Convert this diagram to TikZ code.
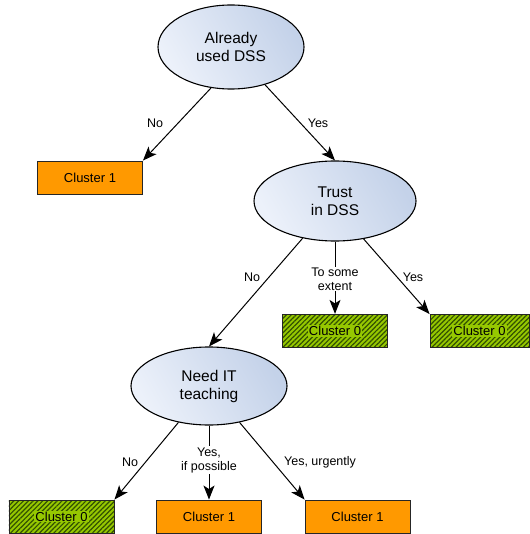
\documentclass[tikz,border=0pt]{standalone}
\usepackage{fontspec}
\setmainfont{Liberation Sans}
\usetikzlibrary{shapes.geometric,arrows.meta,patterns.meta}

\definecolor{boxorange}{RGB}{255,153,0}
\definecolor{limefill}{RGB}{150,200,0}
\definecolor{hatchgreen}{RGB}{50,80,0}
\definecolor{ellipselight}{RGB}{236,241,250}
\definecolor{ellipsedark}{RGB}{196,210,233}

\newcommand{\greentext}[1]{{\setlength{\fboxsep}{1bp}\colorbox{limefill}{#1}}}

\begin{document}
\begin{tikzpicture}[x=1bp,y=-1bp,
  question/.style={ellipse, draw=black, line width=1.1bp,
    left color=ellipselight, right color=ellipsedark, shading angle=120,
    inner sep=0pt, align=center,
    font=\fontsize{15.5bp}{18bp}\selectfont},
  leaf/.style={rectangle, draw=black!85, line width=0.9bp,
    minimum width=105bp, minimum height=33bp, inner sep=0pt,
    font=\fontsize{13bp}{15bp}\selectfont},
  clusterone/.style={leaf, fill=boxorange},
  clusterzero/.style={leaf, preaction={fill=limefill},
    pattern={Lines[angle=45, distance=3.4bp, line width=1.2bp]},
    pattern color=hatchgreen},
  arr/.style={draw=black, line width=1bp,
    -{Stealth[length=14bp,width=11bp,inset=3.5bp]}},
  lbl/.style={align=center, inner sep=1bp,
    font=\fontsize{12.5bp}{14bp}\selectfont},
]
\useasboundingbox (0,0) rectangle (530,534);

% decision nodes
\node[question, minimum width=146bp, minimum height=84bp] (e1) at (231,47) {Already\\used DSS};
\node[question, minimum width=162bp, minimum height=80bp] (e2) at (335,201) {Trust\\in DSS};
\node[question, minimum width=156bp, minimum height=78bp] (e3) at (209,386) {Need IT\\teaching};

% outcomes
\node[clusterone] (c1a) at (90,177.5) {Cluster 1};
\node[clusterzero] (c0a) at (335,331) {\greentext{Cluster 0}};
\node[clusterzero, minimum width=99bp] (c0b) at (479.5,331) {\greentext{Cluster 0}};
\node[clusterzero] (c0c) at (61.5,516.5) {\greentext{Cluster 0}};
\node[clusterone] (c1b) at (209,516.5) {Cluster 1};
\node[clusterone] (c1c) at (357.5,516.5) {Cluster 1};

% branches
\draw[arr] (e1.244) -- (c1a.north east);
\draw[arr] (e1.-48) -- (e2.north);
\draw[arr] (e2.229) -- (e3.north);
\draw[arr] (e2.south) -- (c0a.north);
\draw[arr] (e2.-53) -- (c0b.north west);
\draw[arr] (e3.230) -- (c0c.north east);
\draw[arr] (e3.south) -- (c1b.north);
\draw[arr] (e3.-50) -- (c1c.north west);

% branch labels
\node[lbl] (l1) at (155,123) {No};
\node[lbl] (l2) at (318,123) {Yes};
\node[lbl] (l3) at (252,277) {No};
\node[lbl, fill=white] (l4) at (335,279) {To some\\extent};
\node[lbl] (l5) at (413,277) {Yes};
\node[lbl] (l6) at (130,462) {No};
\node[lbl, fill=white] (l7) at (209,460) {Yes,\\if possible};
\node[lbl] (l8) at (320,462) {Yes, urgently};
\end{tikzpicture}
\end{document}
